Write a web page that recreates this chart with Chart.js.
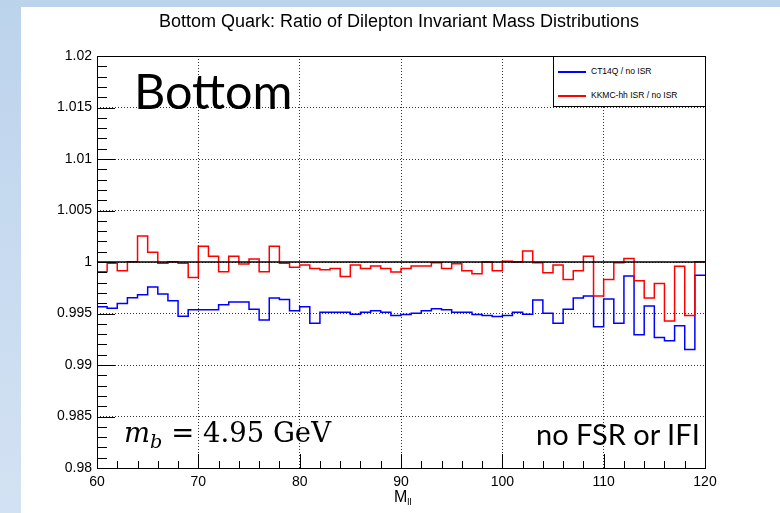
<!DOCTYPE html>
<html>
<head>
<meta charset="utf-8">
<script src="https://cdn.jsdelivr.net/npm/chart.js@4.4.1/dist/chart.umd.min.js"></script>
<style>
  html, body { margin: 0; padding: 0; }
  body {
    width: 780px; height: 513px; position: relative; overflow: hidden;
    background: linear-gradient(180deg, #bcd3ec 0%, #d3e2f3 100%);
    font-family: "Liberation Sans", Arial, sans-serif;
  }
  #panel { position: absolute; left: 21px; top: 7px; right: 0; bottom: 0; background: #fff; }
  #wrap { position: absolute; left: 0; top: 0; width: 780px; height: 513px; }
  .txt { position: absolute; white-space: nowrap; color: #000; line-height: 1; }
  #title { left: 399px; top: 12px; transform: translateX(-50%); font-size: 18px; }
  #big { left: 134px; top: 66px; font-family: Lato, sans-serif; font-size: 48.5px; }
  #mass { left: 124px; top: 419px; font-family: "DejaVu Serif", serif; font-size: 27.5px; }
  #mass sub { font-size: 0.7em; vertical-align: -0.3em; }
  #nofsr { left: 536px; top: 419px; font-family: Lato, sans-serif; font-size: 29px; }
  #xtitle { left: 394px; top: 489px; font-size: 16px; }
  #xtitle sub { font-size: 0.6em; vertical-align: -0.3em; }
  #legend {
    position: absolute; left: 553px; top: 56px; width: 151px; height: 49px;
    border: 1px solid #000; background: #fff; font-size: 8.5px;
  }
  .lrow { position: absolute; left: 4px; line-height: 10px; }
  .ln { display: inline-block; width: 28px; height: 2px; vertical-align: middle; margin-right: 5px; }
</style>
</head>
<body>
<div id="panel"></div>
<div id="wrap"><canvas id="c" width="780" height="513"></canvas></div>
<div class="txt" id="title">Bottom Quark: Ratio of Dilepton Invariant Mass Distributions</div>
<div id="legend">
  <div class="lrow" style="top:9px"><span class="ln" style="background:#0000ff"></span>CT14Q / no ISR</div>
  <div class="lrow" style="top:33px"><span class="ln" style="background:#ff0000"></span>KKMC-hh ISR / no ISR</div>
</div>
<div class="txt" id="big">Bottom</div>
<div class="txt" id="mass"><i>m<sub>b</sub></i> = 4.95 GeV</div>
<div class="txt" id="nofsr">no FSR or IFI</div>
<div class="txt" id="xtitle">M<sub>ll</sub></div>
<script>
// bin lower edges (1 GeV bins, 60 to 120)
const binEdges = [];
for (let m = 60; m < 120; m++) binEdges.push(m);
const xMax = 120;

// CT14Q / no ISR
const ct14qRatio = [
  0.99565, 0.99552, 0.99598, 0.99653, 0.99683, 0.99758, 0.99689, 0.99624, 0.99474, 0.99536,
  0.99536, 0.99536, 0.99585, 0.99611, 0.99611, 0.99542, 0.99438, 0.99650, 0.99637, 0.99526,
  0.99565, 0.99405, 0.99513, 0.99513, 0.99513, 0.99493, 0.99513, 0.99526, 0.99513, 0.99480,
  0.99490, 0.99503, 0.99526, 0.99545, 0.99536, 0.99513, 0.99513, 0.99490, 0.99480, 0.99470,
  0.99480, 0.99513, 0.99493, 0.99630, 0.99503, 0.99405, 0.99542, 0.99650, 0.99670, 0.99372,
  0.99640, 0.99405, 0.99863, 0.99294, 0.99572, 0.99268, 0.99235, 0.99382, 0.99150, 0.99872
];

// KKMC-hh ISR / no ISR
const kkmcRatio = [
  0.99905, 0.99987, 0.99915, 1.00003, 1.00252, 1.00095, 0.99987, 1.00003, 0.99987, 0.99850,
  1.00154, 1.00056, 0.99905, 1.00056, 0.99980, 1.00030, 0.99905, 1.00154, 0.99987, 0.99948,
  0.99971, 0.99938, 0.99925, 0.99938, 0.99859, 0.99971, 0.99938, 0.99961, 0.99938, 0.99902,
  0.99938, 0.99961, 0.99961, 0.99993, 0.99938, 0.99984, 0.99915, 0.99886, 1.00000, 0.99915,
  1.00007, 1.00000, 1.00108, 0.99993, 0.99895, 0.99971, 0.99830, 0.99915, 1.00056, 0.99670,
  0.99830, 0.99993, 1.00033, 0.99817, 0.99650, 0.99791, 0.99428, 0.99958, 0.99480, 1.00003
];

const unityLine = [1, 1];

// step histogram: one point per lower edge, plus the closing upper edge
function histPoints(vals) {
  const pts = binEdges.map((x, i) => ({ x: x, y: vals[i] }));
  pts.push({ x: xMax, y: vals[vals.length - 1] });
  return pts;
}

// ROOT-style inward ticks and frame
const rootFrame = {
  id: 'rootFrame',
  afterDraw(chart) {
    const { ctx, chartArea: a, scales: { x, y } } = chart;
    ctx.save();
    ctx.strokeStyle = '#000';
    ctx.lineWidth = 1;
    ctx.beginPath();
    for (let k = 0; k <= 40; k++) {
      const v = 0.98 + k * 0.001;
      const py = Math.round(y.getPixelForValue(v)) + 0.5;
      const len = k % 5 === 0 ? 18 : 10;
      ctx.moveTo(a.left, py);
      ctx.lineTo(a.left + len, py);
    }
    for (let k = 0; k <= 30; k++) {
      const v = 60 + k * 2;
      const px = Math.round(x.getPixelForValue(v)) + 0.5;
      const len = k % 5 === 0 ? 14 : 7;
      ctx.moveTo(px, a.bottom);
      ctx.lineTo(px, a.bottom - len);
    }
    ctx.stroke();
    ctx.strokeRect(Math.round(a.left) + 0.5, Math.round(a.top) + 0.5,
      Math.round(a.right - a.left), Math.round(a.bottom - a.top));
    ctx.restore();
  }
};

new Chart(document.getElementById('c'), {
  type: 'line',
  data: {
    datasets: [
      {
        label: 'unity', data: [{ x: 60, y: unityLine[0] }, { x: xMax, y: unityLine[1] }],
        borderColor: '#000', borderWidth: 1.5, pointRadius: 0, order: 0
      },
      {
        // 'before' holds each value until the next edge
        label: 'KKMC-hh ISR / no ISR', data: histPoints(kkmcRatio), stepped: 'before',
        borderColor: '#ff0000', borderWidth: 1.5, pointRadius: 0, order: 1
      },
      {
        label: 'CT14Q / no ISR', data: histPoints(ct14qRatio), stepped: 'before',
        borderColor: '#0000ff', borderWidth: 1.5, pointRadius: 0, order: 2
      }
    ]
  },
  options: {
    responsive: false,
    animation: false,
    layout: { padding: { left: 0, top: 56, right: 75, bottom: 0 } },
    plugins: { legend: { display: false }, tooltip: { enabled: false }, title: { display: false } },
    scales: {
      x: {
        type: 'linear', min: 60, max: 120,
        afterFit: s => { s.height = 45; },
        ticks: { stepSize: 10, color: '#000', padding: 6, font: { family: 'Liberation Sans', size: 14 } },
        grid: { color: 'rgba(0,0,0,0.8)', lineWidth: 1, drawTicks: false },
        border: { display: false, dash: [1, 2] }
      },
      y: {
        type: 'linear', min: 0.98, max: 1.02,
        afterFit: s => { s.width = 97; },
        ticks: {
          stepSize: 0.005, color: '#000', padding: 5,
          font: { family: 'Liberation Sans', size: 14 },
          callback: v => String(+v.toFixed(3))
        },
        grid: { color: 'rgba(0,0,0,0.8)', lineWidth: 1, drawTicks: false },
        border: { display: false, dash: [1, 2] }
      }
    }
  },
  plugins: [rootFrame]
});
</script>
</body>
</html>
